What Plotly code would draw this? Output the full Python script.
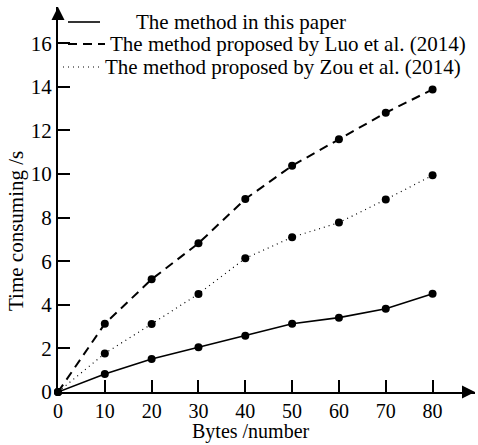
import plotly.graph_objects as go

bytes_x = [0, 10, 20, 30, 40, 50, 60, 70, 80]
this_paper = [0, 0.83, 1.51, 2.05, 2.58, 3.13, 3.41, 3.82, 4.51]
luo = [0, 3.13, 5.17, 6.82, 8.85, 10.38, 11.59, 12.81, 13.88]
zou = [0, 1.77, 3.12, 4.50, 6.13, 7.10, 7.77, 8.83, 9.94]
names = ["The method in this paper",
         "The method proposed by Luo et al. (2014)",
         "The method proposed by Zou et al. (2014)"]
x_ticks = [0, 10, 20, 30, 40, 50, 60, 70, 80]
y_ticks = [0, 2, 4, 6, 8, 10, 12, 14, 16]

FONT = "Liberation Serif"
W, H = 478, 445
ML, MR, MT, MB = 58, 3, 7, 53

fig = go.Figure()
styles = [dict(width=1.6, dash="solid"),
          dict(width=2, dash="9px,6px"),
          dict(width=1.2, dash="1px,4px")]
for ys, st, nm in zip([this_paper, luo, zou], styles, names):
    fig.add_trace(go.Scatter(x=bytes_x, y=ys, mode="lines+markers", name=nm,
                             line=dict(color="black", **st),
                             marker=dict(color="black", size=8),
                             showlegend=False, cliponaxis=False))

fig.update_xaxes(range=[0, 89.06], tickvals=x_ticks, ticks="inside", ticklen=12,
                 tickwidth=2, tickcolor="black", showline=True, linewidth=2,
                 linecolor="black", showgrid=False, zeroline=False,
                 tickfont=dict(family=FONT, size=20, color="black"))
fig.update_yaxes(range=[0, 17.66], tickvals=y_ticks, ticks="inside", ticklen=12,
                 tickwidth=2, tickcolor="black", showline=True, linewidth=2,
                 linecolor="black", showgrid=False, zeroline=False,
                 tickfont=dict(family=FONT, size=21, color="black"))

pw = W - ML - MR
ph = H - MT - MB
def px2paper_x(px):
    return (px - ML) / pw
def px2paper_y(py):
    return (H - MB - py) / ph

annotations = [
    dict(x=1, y=0, xref="paper", yref="paper", ax=-14, ay=0, axref="pixel", ayref="pixel",
         showarrow=True, arrowhead=2, arrowsize=1.3, arrowwidth=2, arrowcolor="black", text=""),
    dict(x=0, y=1, xref="paper", yref="paper", ax=0, ay=14, axref="pixel", ayref="pixel",
         showarrow=True, arrowhead=2, arrowsize=1.3, arrowwidth=2, arrowcolor="black", text=""),
    dict(text="Bytes /number", x=px2paper_x(251), y=px2paper_y(445), xref="paper", yref="paper",
         xanchor="center", yanchor="bottom",
         showarrow=False, font=dict(family=FONT, size=20, color="black")),
    dict(text="Time consuming /s", x=px2paper_x(16), y=px2paper_y(231), xref="paper", yref="paper",
         xanchor="center", yanchor="middle",
         showarrow=False, textangle=-90, font=dict(family=FONT, size=21, color="black")),
]
legend_rows = [(22, 68, 100, 134, "solid", 1.6),
               (44, 68, 105, 108, "9px,6px", 2),
               (67, 63, 100, 103, "1px,4px", 1.2)]
shapes = []
for (py, x0, x1, tx, dash, w), nm in zip(legend_rows, names):
    shapes.append(dict(type="line", xref="paper", yref="paper",
                       x0=px2paper_x(x0), x1=px2paper_x(x1),
                       y0=px2paper_y(py), y1=px2paper_y(py),
                       line=dict(color="black", width=w, dash=dash)))
    annotations.append(dict(text=nm, x=px2paper_x(tx), y=px2paper_y(py), xref="paper", yref="paper",
                            xanchor="left", yanchor="middle", showarrow=False,
                            font=dict(family=FONT, size=21, color="black")))

fig.update_layout(width=W, height=H, margin=dict(l=ML, r=MR, t=MT, b=MB),
                  plot_bgcolor="white", paper_bgcolor="white",
                  annotations=annotations, shapes=shapes)
fig.write_html("out.html")
